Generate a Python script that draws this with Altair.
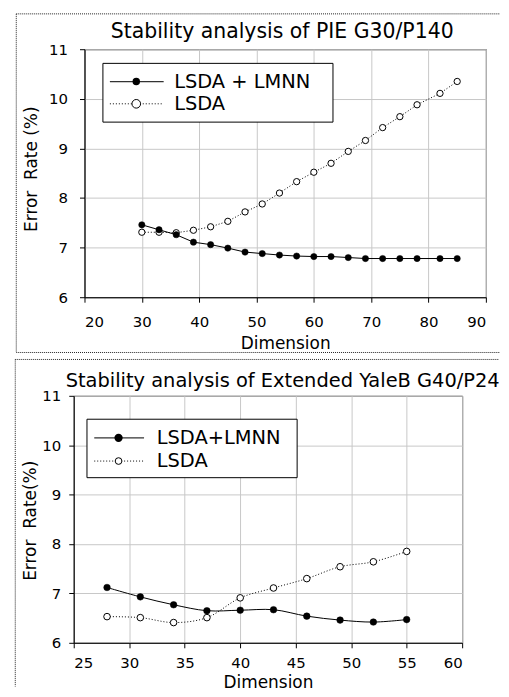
import altair as alt
import pandas as pd

FONT = "DejaVu Sans"

# ---- data ----
pie_dims = [30, 33, 36, 39, 42, 45, 48, 51, 54, 57, 60, 63, 66, 69, 72, 75, 78, 82, 85]
pie_lmnn = [7.46, 7.36, 7.26, 7.11, 7.06, 6.99, 6.91, 6.88, 6.85, 6.83, 6.82, 6.82, 6.80, 6.78, 6.78, 6.78, 6.78, 6.78, 6.78]
pie_lsda = [7.31, 7.31, 7.30, 7.35, 7.42, 7.53, 7.72, 7.88, 8.10, 8.33, 8.52, 8.70, 8.94, 9.16, 9.42, 9.64, 9.88, 10.11, 10.35]

yale_dims = [28, 31, 34, 37, 40, 43, 46, 49, 52, 55]
yale_lmnn = [7.12, 6.93, 6.77, 6.65, 6.66, 6.67, 6.54, 6.46, 6.42, 6.47]
yale_lsda = [6.53, 6.51, 6.41, 6.51, 6.91, 7.11, 7.30, 7.54, 7.64, 7.85]

pie_xticks = [20, 30, 40, 50, 60, 70, 80, 90]
yale_xticks = [25, 30, 35, 40, 45, 50, 55, 60]
y_ticks = [6, 7, 8, 9, 10, 11]

pie_title = "Stability analysis of PIE G30/P140"
yale_title = "Stability analysis of Extended YaleB G40/P24"
pie_legend = ["LSDA + LMNN", "LSDA"]
yale_legend = ["LSDA+LMNN", "LSDA"]
pie_ytitle = "Error\u00a0 Rate (%)"
yale_ytitle = "Error\u00a0 Rate(%)"
xtitle = "Dimension"

ONE = alt.Data(values=[{"k": 0}])


def panel(dims, lmnn, lsda, xticks, title, legend, ytitle, g):
    df_lmnn = pd.DataFrame({"dim": dims, "rate": lmnn})
    df_lsda = pd.DataFrame({"dim": dims, "rate": lsda})

    xs = alt.Scale(domain=[xticks[0], xticks[-1]], nice=False, zero=False)
    ys = alt.Scale(domain=[y_ticks[0], y_ticks[-1]], nice=False, zero=False)
    xaxis = alt.Axis(values=xticks, title=xtitle, labelPadding=g["xlp"],
                     titleY=g["xty"], titleBaseline="alphabetic", grid=True)
    yaxis = alt.Axis(values=y_ticks, title=ytitle, labelPadding=g["ylp"],
                     titleX=g["ytx"], titleY=g["yty"], titleBaseline="middle", grid=True)
    X = alt.X("dim:Q", scale=xs, axis=xaxis)
    Y = alt.Y("rate:Q", scale=ys, axis=yaxis)

    interp = g["interp"]
    lsda_line = alt.Chart(df_lsda).mark_line(
        color="black", strokeWidth=1, strokeDash=[1, 2], interpolate=interp
    ).encode(x=X, y=Y)
    lmnn_line = alt.Chart(df_lmnn).mark_line(
        color="black", strokeWidth=1, interpolate=interp
    ).encode(x=X, y=Y)
    lsda_pts = alt.Chart(df_lsda).mark_point(
        shape="circle", filled=True, fill="white", stroke="black", strokeWidth=1,
        size=g["msize"], opacity=1
    ).encode(x=X, y=Y)
    lmnn_pts = alt.Chart(df_lmnn).mark_point(
        shape="circle", filled=True, fill="black", stroke="black", strokeWidth=0.5,
        size=g["msize"], opacity=1
    ).encode(x=X, y=Y)

    dot = dict(color="#222", strokeWidth=1, strokeDash=[1, 1])
    b = g["border"]
    top_rule = alt.Chart(ONE).mark_rule(**dot).encode(
        x=alt.value(b["left"]), x2=alt.value(b["right"]), y=alt.value(b["top"]))
    left_rule = alt.Chart(ONE).mark_rule(**dot).encode(
        x=alt.value(b["left"]), y=alt.value(b["top"]), y2=alt.value(b["bottom"]))
    layers = [top_rule, left_rule]
    if b.get("draw_bottom"):
        layers.append(alt.Chart(ONE).mark_rule(**dot).encode(
            x=alt.value(b["left"]), x2=alt.value(b["right"]), y=alt.value(b["bottom"])))

    title_txt = alt.Chart(ONE).mark_text(
        text=title, font=FONT, fontSize=g["tsize"], align="center",
        baseline="alphabetic", color="black"
    ).encode(x=alt.value(g["tx"]), y=alt.value(g["ty"]))

    lg = g["legend"]
    box = alt.Chart(ONE).mark_rect(fill="white", stroke="black", strokeWidth=1).encode(
        x=alt.value(lg["x0"]), x2=alt.value(lg["x1"]),
        y=alt.value(lg["y0"]), y2=alt.value(lg["y1"]))
    l1 = alt.Chart(ONE).mark_rule(color="#333", strokeWidth=1.2).encode(
        x=alt.value(lg["lx0"]), x2=alt.value(lg["lx1"]), y=alt.value(lg["e1"]))
    l2 = alt.Chart(ONE).mark_rule(color="black", strokeWidth=1, strokeDash=[1, 2]).encode(
        x=alt.value(lg["lx0"]), x2=alt.value(lg["lx1"]), y=alt.value(lg["e2"]))
    s1 = alt.Chart(ONE).mark_point(shape="circle", filled=True, fill="black", stroke="black",
                                   size=lg["s1"], opacity=1).encode(
        x=alt.value(lg["sx"]), y=alt.value(lg["e1"]))
    s2 = alt.Chart(ONE).mark_point(shape="circle", filled=True, fill="white", stroke="black",
                                   strokeWidth=1, size=lg["s2"], opacity=1).encode(
        x=alt.value(lg["sx"]), y=alt.value(lg["e2"]))
    t1 = alt.Chart(ONE).mark_text(text=legend[0], font=FONT, fontSize=lg["fs"], align="left",
                                  baseline="middle", color="black").encode(
        x=alt.value(lg["tx"]), y=alt.value(lg["e1"]))
    t2 = alt.Chart(ONE).mark_text(text=legend[1], font=FONT, fontSize=lg["fs"], align="left",
                                  baseline="middle", color="black").encode(
        x=alt.value(lg["tx"]), y=alt.value(lg["e2"]))

    layers += [title_txt, lsda_line, lmnn_line, lsda_pts, lmnn_pts, box, l1, l2, s1, s2, t1, t2]
    return alt.layer(*layers).properties(width=g["w"], height=g["h"])


# plot-relative geometry (pixels); top plot origin is 9.8 px right of the bottom one
top_geo = dict(
    w=403, h=249, interp="linear", msize=40, xlp=12, ylp=12, xty=51.5, ytx=-53, yty=120,
    border=dict(left=-68.5, right=417, top=-35.5, bottom=304.5, draw_bottom=True),
    tsize=20.5, tx=198.5, ty=-11,
    legend=dict(x0=18.5, x1=249.5, y0=14.2, y1=73.2, e1=32.5, e2=54.8,
                lx0=25.5, lx1=79.5, sx=52, tx=90, s1=30, s2=75, fs=19.5),
)
bottom_geo = dict(
    w=390, h=248, interp="catmull-rom", msize=44, xlp=8, ylp=8, xty=44.5, ytx=-43.3, yty=125,
    border=dict(left=-58.7, right=427, top=-36.5, bottom=292),
    tsize=19.5, tx=209.8, ty=-8.5,
    legend=dict(x0=13.3, x1=224.3, y0=23.5, y1=82.2, e1=42.2, e2=65.5,
                lx0=20.6, lx1=70.6, sx=45, tx=83.3, s1=40, s2=45, fs=19.5),
)

top = panel(pie_dims, pie_lmnn, pie_lsda, pie_xticks, pie_title, pie_legend, pie_ytitle, top_geo)
bottom = panel(yale_dims, yale_lmnn, yale_lsda, yale_xticks, yale_title, yale_legend, yale_ytitle, bottom_geo)

# invisible 1px spacer used to shift the top panel horizontally
spacer = alt.Chart(ONE).mark_point(opacity=0, size=1).encode(
    x=alt.value(0), y=alt.value(0)
).properties(width=1, height=1, view=alt.ViewBackground(stroke=None))

top_row = alt.hconcat(spacer, top, spacing=-60.2)

chart = alt.vconcat(top_row, bottom, spacing=4).properties(
    padding={"left": 6, "top": 3, "right": 0, "bottom": 0},
    background="white",
).configure_view(
    stroke="black", strokeWidth=1
).configure_axis(
    domainColor="black", domainWidth=1, tickColor="black", tickSize=5, tickWidth=1,
    gridColor="#c8c8c8", gridWidth=1,
    labelFont=FONT, labelFontSize=15, labelColor="black",
    titleFont=FONT, titleFontSize=17, titleFontWeight="normal", titleColor="black",
)

chart.save("out.html", embed_options={"renderer": "svg", "actions": False})
